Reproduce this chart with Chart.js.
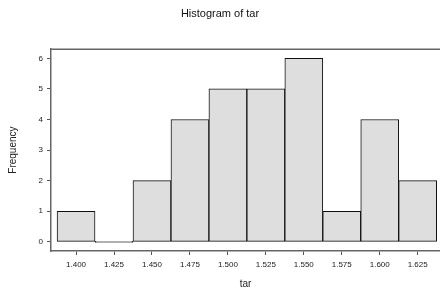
<!DOCTYPE html>
<html>
<head>
<meta charset="utf-8">
<script src="https://cdn.jsdelivr.net/npm/chart.js@4"></script>
<style>
  html, body { margin: 0; padding: 0; background: #fff; }
  #wrap { width: 440px; height: 290px; }
</style>
</head>
<body>
<div id="wrap"><canvas id="histChart"></canvas></div>
<script>
// bin centres and counts
const binCentres = [1.400, 1.425, 1.450, 1.475, 1.500, 1.525, 1.550, 1.575, 1.600, 1.625];
const counts = [1, 0, 2, 4, 5, 5, 6, 1, 4, 2];
const xTicks = [1.400, 1.425, 1.450, 1.475, 1.500, 1.525, 1.550, 1.575, 1.600, 1.625];
const yTicks = [0, 1, 2, 3, 4, 5, 6];

const font = "'Liberation Sans', Arial, sans-serif";

// top border of the plot box
const boxTop = {
  id: 'boxTop',
  afterDraw(chart) {
    const { ctx, chartArea } = chart;
    ctx.save();
    ctx.strokeStyle = '#666';
    ctx.lineWidth = 1.5;
    ctx.beginPath();
    ctx.moveTo(chartArea.left, chartArea.top);
    ctx.lineTo(chartArea.right, chartArea.top);
    ctx.stroke();
    ctx.restore();
  }
};

new Chart(document.getElementById('histChart'), {
  type: 'bar',
  data: {
    datasets: [{
      data: binCentres.map((x, i) => ({ x: x, y: counts[i] })),
      backgroundColor: '#dedede',
      borderColor: '#111',
      borderWidth: 1,
      borderSkipped: false,
      minBarLength: 1,
      barPercentage: 1,
      categoryPercentage: 1
    }]
  },
  options: {
    responsive: true,
    maintainAspectRatio: false,
    animation: false,
    layout: { padding: { left: 0, right: 0, top: 0, bottom: 0 } },
    plugins: {
      legend: { display: false },
      tooltip: { enabled: false },
      title: {
        display: true,
        text: 'Histogram of tar',
        color: '#111',
        font: { family: font, size: 11, weight: 'normal' },
        padding: { top: 7, bottom: 29 }
      }
    },
    scales: {
      x: {
        type: 'linear',
        offset: false,
        min: 1.3835,
        max: 1.6397,
        afterBuildTicks: s => { s.ticks = xTicks.map(v => ({ value: v })); },
        afterFit: s => { s.height = 39; },
        ticks: {
          autoSkip: false,
          maxRotation: 0,
          padding: 5,
          color: '#222',
          font: { family: font, size: 8 },
          callback: v => v.toFixed(3)
        },
        grid: { display: true, offset: false, drawOnChartArea: false, drawTicks: true, tickLength: 4, color: '#555' },
        border: { display: true, color: '#666', width: 1.5 },
        title: {
          display: true, text: 'tar', color: '#222',
          font: { family: font, size: 10 },
          padding: { top: 2, bottom: 0 }
        }
      },
      y: {
        min: -0.3,
        max: 6.3,
        afterBuildTicks: s => { s.ticks = yTicks.map(v => ({ value: v })); },
        afterFit: s => { s.width = 51; },
        ticks: {
          padding: 4,
          color: '#222',
          font: { family: font, size: 8 }
        },
        grid: { display: true, drawOnChartArea: false, drawTicks: true, tickLength: 4, color: '#555' },
        border: { display: true, color: '#666', width: 1.5 },
        title: {
          display: true, text: 'Frequency', color: '#222',
          font: { family: font, size: 10 },
          padding: { top: 7, bottom: 0 }
        }
      }
    }
  },
  plugins: [boxTop]
});
</script>
</body>
</html>
